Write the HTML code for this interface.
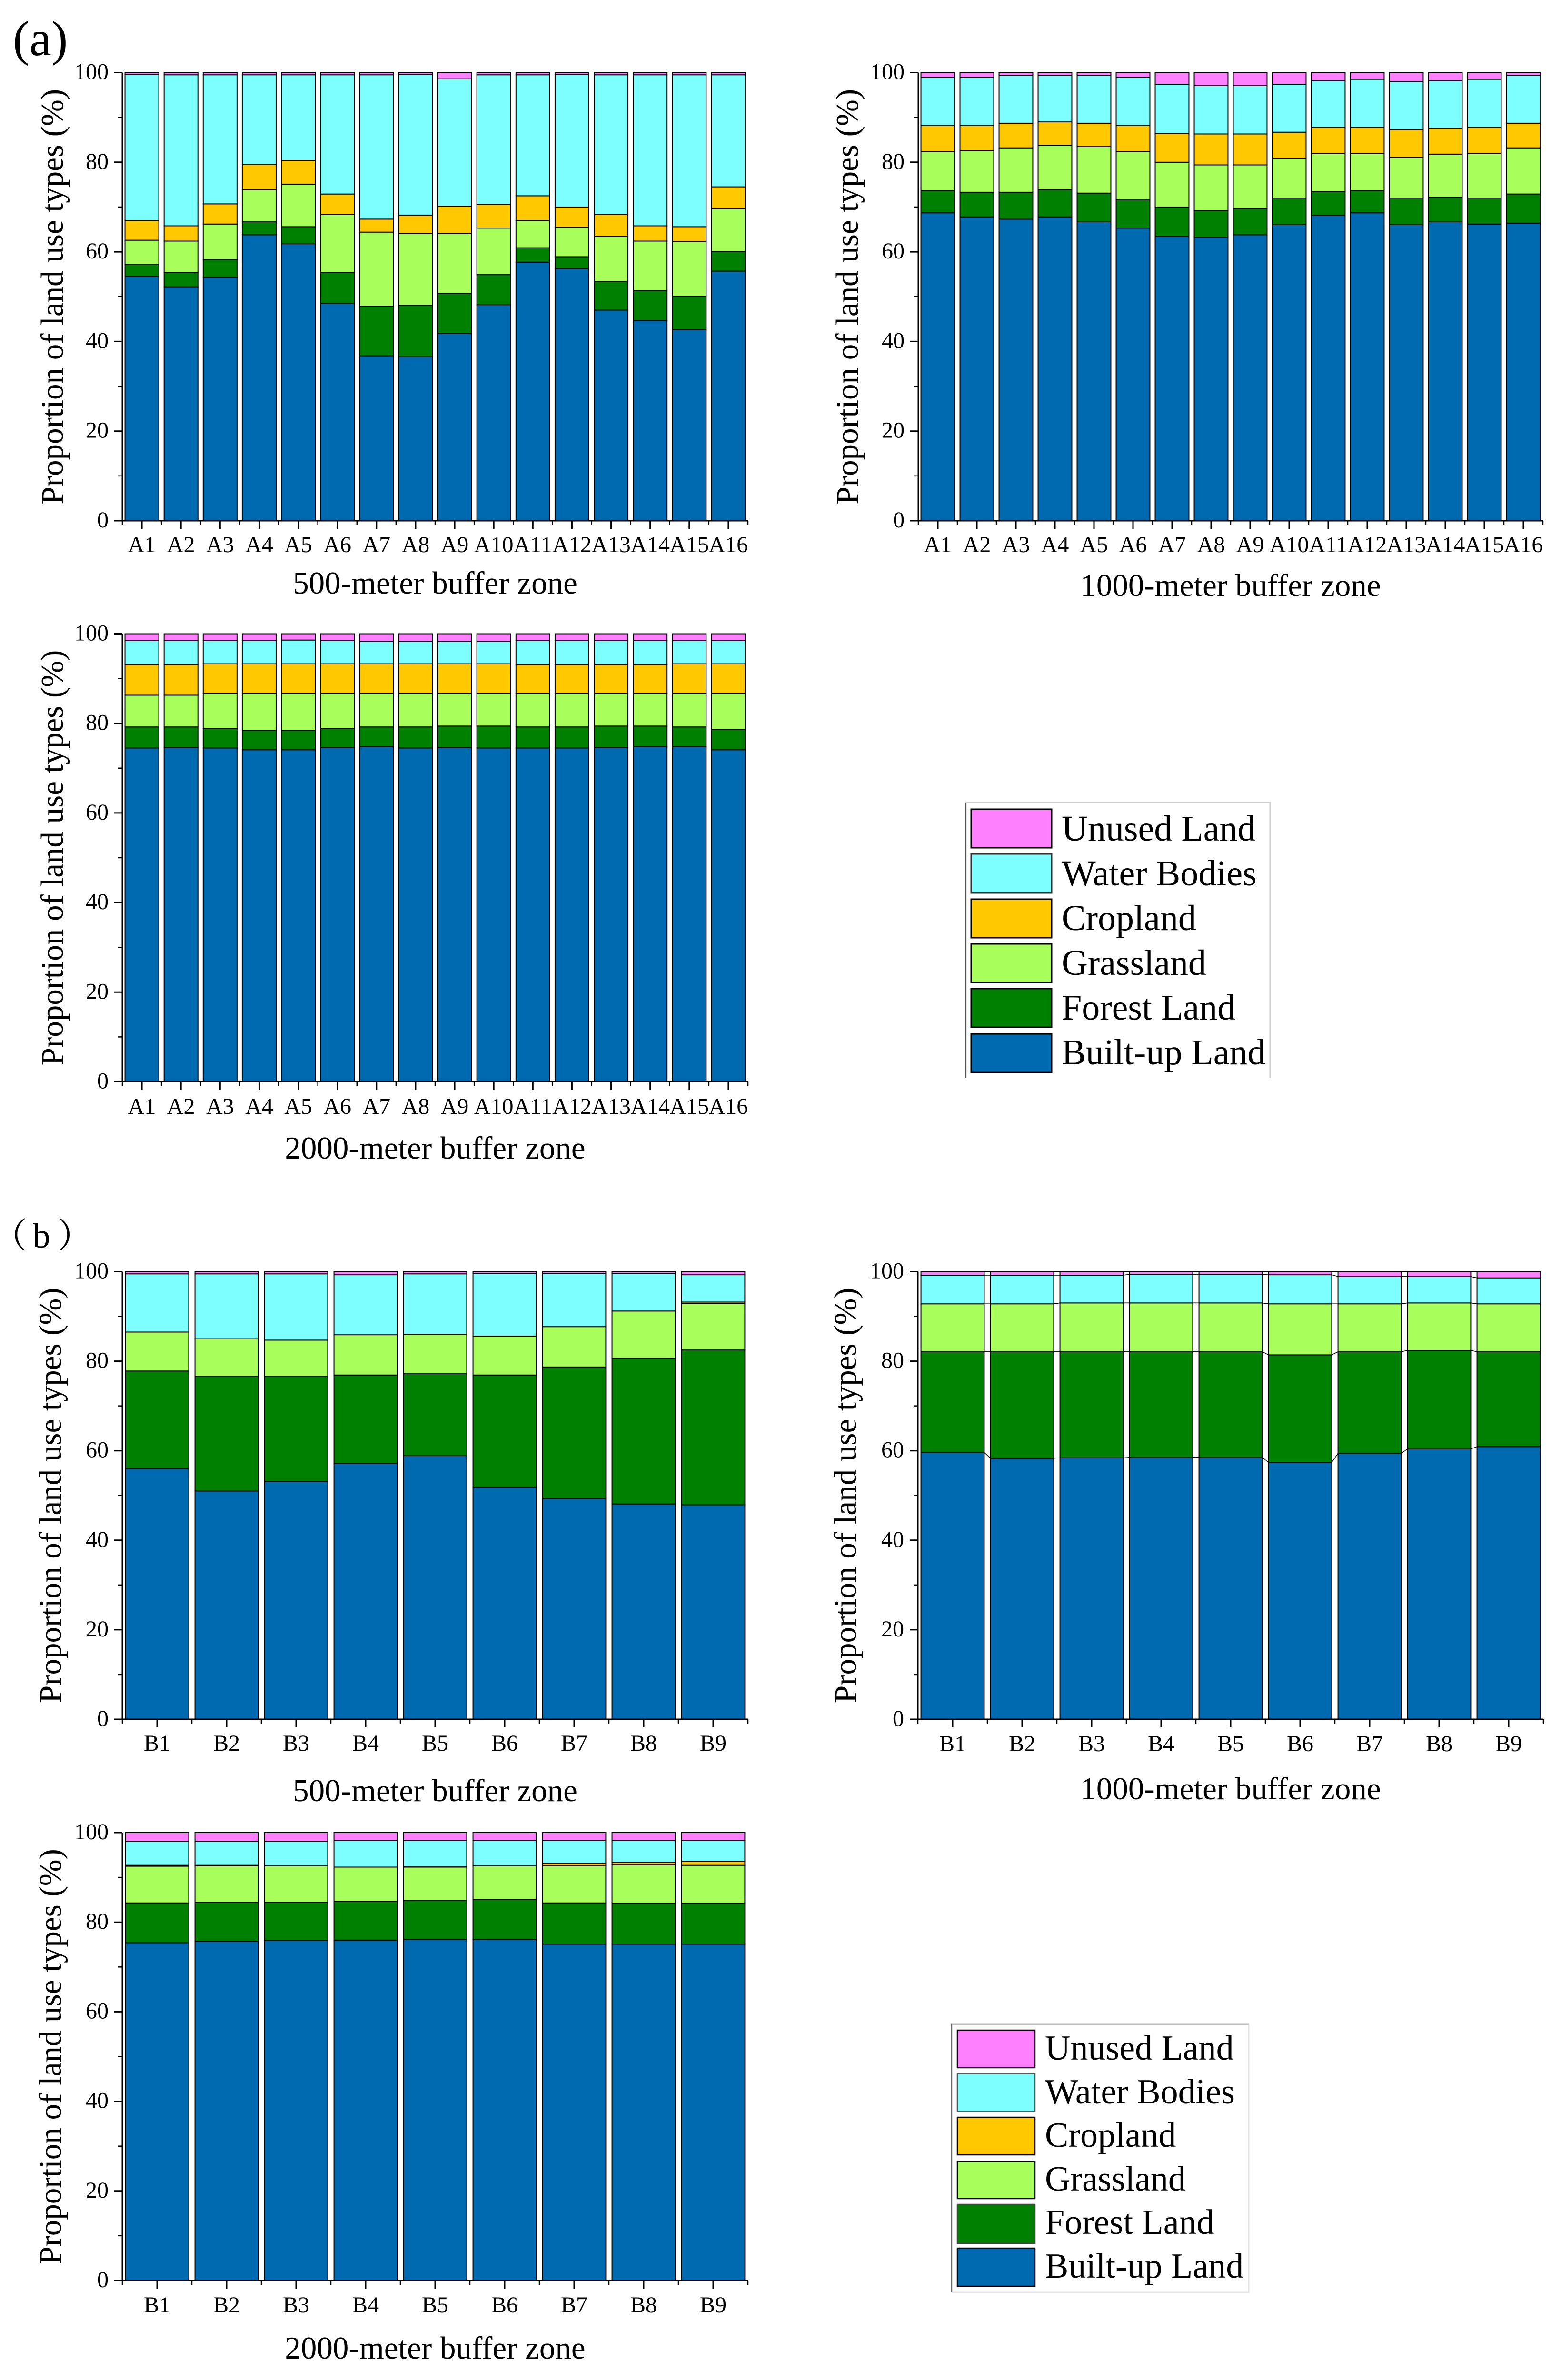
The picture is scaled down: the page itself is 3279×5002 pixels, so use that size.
<!DOCTYPE html>
<html lang="en">
<head>
<meta charset="utf-8">
<title>Proportion of land use types by buffer zone</title>
<style>
html,body{margin:0;padding:0;background:#fff;width:3279px;height:5002px;overflow:hidden;}
#figure{display:block;position:absolute;left:0;top:0;width:3279px;height:5002px;overflow:hidden;}
text{font-family:"Liberation Serif","Noto Serif CJK SC",serif;fill:#000;}
</style>
</head>
<body>
<svg id="figure" xmlns="http://www.w3.org/2000/svg" width="3279" height="5002" viewBox="0 0 3279 5002">
  <text x="27" y="116" font-size="104">(a)</text>
  <text x="-16" y="2621" font-size="73">（<tspan dx="12">b</tspan><tspan dx="15">）</tspan></text>

  <g>
    <path d="M2029 2265V1686H2668V2265" fill="none" stroke="#cfcfcf" stroke-width="3"/>
    <path d="M2029 2265V1686" fill="none" stroke="#555" stroke-width="2"/>
    <rect x="2040" y="1700" width="169" height="81" fill="#FF80FF" stroke="#000" stroke-width="3"/>
    <rect x="2040" y="1794" width="169" height="82" fill="#7DFFFF" stroke="#333" stroke-width="3"/>
    <rect x="2040" y="1889" width="169" height="81" fill="#FFC800" stroke="#000" stroke-width="3"/>
    <rect x="2040" y="1983" width="169" height="81" fill="#A8FF5C" stroke="#000" stroke-width="3"/>
    <rect x="2040" y="2077" width="169" height="81" fill="#008000" stroke="#000" stroke-width="3"/>
    <rect x="2040" y="2172" width="169" height="81" fill="#006AB0" stroke="#000" stroke-width="3"/>
    <text x="2230" y="1766" font-size="76">Unused Land</text>
    <text x="2230" y="1860" font-size="76">Water Bodies</text>
    <text x="2230" y="1954" font-size="76">Cropland</text>
    <text x="2230" y="2048" font-size="76">Grassland</text>
    <text x="2230" y="2142" font-size="76">Forest Land</text>
    <text x="2230" y="2236" font-size="76">Built-up Land</text>
  </g>

  <g>
    <path d="M1999 4816H2623V4253H1999" fill="none" stroke="#e4e4e4" stroke-width="3"/>
    <path d="M1999 4816V4253H2623" fill="none" stroke="#bbb" stroke-width="3"/>
    <path d="M1999 4816V4253" fill="none" stroke="#666" stroke-width="2"/>
    <rect x="2011" y="4265" width="163" height="79" fill="#FF80FF" stroke="#000" stroke-width="2.5"/>
    <rect x="2011" y="4356" width="163" height="80" fill="#7DFFFF" stroke="#555" stroke-width="2.5"/>
    <rect x="2011" y="4448" width="163" height="79" fill="#FFC800" stroke="#000" stroke-width="2.5"/>
    <rect x="2011" y="4541" width="163" height="78" fill="#A8FF5C" stroke="#000" stroke-width="2.5"/>
    <rect x="2011" y="4631" width="163" height="82" fill="#008000" stroke="#444" stroke-width="2.5"/>
    <rect x="2011" y="4723" width="163" height="80" fill="#006AB0" stroke="#000" stroke-width="2.5"/>
    <text x="2195" y="4327" font-size="74">Unused Land</text>
    <text x="2195" y="4419" font-size="74">Water Bodies</text>
    <text x="2195" y="4510" font-size="74">Cropland</text>
    <text x="2195" y="4602" font-size="74">Grassland</text>
    <text x="2195" y="4693" font-size="74">Forest Land</text>
    <text x="2195" y="4785" font-size="74">Built-up Land</text>
  </g>
  <g id="charts"></g>
</svg>
<script>
// Category and tick labels
var categoriesA = ['A1','A2','A3','A4','A5','A6','A7','A8','A9','A10','A11','A12','A13','A14','A15','A16'];
var categoriesB = ['B1','B2','B3','B4','B5','B6','B7','B8','B9'];
var yTickValues = [0,20,40,60,80,100];
var yMinorTickValues = [10,30,50,70,90];

// Panel (a), 500 m buffer (percent)
var a500Built = [54.5,52.2,54.3,63.8,61.8,48.5,36.8,36.6,41.8,48.2,57.7,56.3,47.0,44.7,42.6,55.7];
var a500Forest = [2.7,3.2,4.0,2.9,3.8,6.9,11.1,11.5,8.9,6.7,3.2,2.6,6.4,6.7,7.5,4.4];
var a500Grass = [5.4,7.0,7.9,7.2,9.5,13.0,16.5,16.0,13.4,10.4,6.1,6.6,10.1,11.0,12.2,9.5];
var a500Crop = [4.4,3.4,4.5,5.6,5.3,4.5,2.9,4.1,6.1,5.3,5.5,4.5,4.9,3.4,3.3,4.9];
var a500Water = [32.6,33.7,28.8,20.0,19.1,26.6,32.2,31.4,28.4,28.9,27.0,29.6,31.1,33.7,33.9,25.0];
var a500Unused = [0.4,0.5,0.5,0.5,0.5,0.5,0.5,0.4,1.4,0.5,0.5,0.4,0.5,0.5,0.5,0.5];

// Panel (a), 1000 m buffer
var a1000Built = [68.7,67.8,67.3,67.8,66.7,65.3,63.5,63.3,63.8,66.1,68.2,68.7,66.1,66.7,66.2,66.4];
var a1000Forest = [5.0,5.5,6.0,6.1,6.4,6.3,6.5,5.9,5.8,5.9,5.2,5.0,5.9,5.5,5.8,6.5];
var a1000Grass = [8.7,9.3,9.9,9.9,10.4,10.8,10.0,10.2,9.8,8.9,8.6,8.3,9.1,9.6,10.0,10.3];
var a1000Crop = [5.8,5.6,5.5,5.2,5.2,5.8,6.4,6.9,6.9,5.8,5.8,5.8,6.2,5.8,5.8,5.5];
var a1000Water = [10.7,10.7,10.7,10.4,10.7,10.7,11.0,10.8,10.8,10.7,10.4,10.7,10.7,10.6,10.7,10.7];
var a1000Unused = [1.1,1.1,0.6,0.6,0.6,1.1,2.6,2.9,2.9,2.6,1.8,1.5,2.0,1.8,1.5,0.6];

// Panel (a), 2000 m buffer
var a2000Built = [74.5,74.6,74.5,74.1,74.1,74.6,74.8,74.5,74.6,74.5,74.5,74.5,74.6,74.8,74.8,74.1];
var a2000Forest = [4.7,4.6,4.3,4.3,4.3,4.3,4.4,4.7,4.8,4.9,4.7,4.7,4.8,4.6,4.4,4.5];
var a2000Grass = [7.1,7.1,7.9,8.3,8.3,7.8,7.5,7.5,7.3,7.3,7.5,7.5,7.3,7.3,7.5,8.1];
var a2000Crop = [6.8,6.8,6.6,6.6,6.6,6.6,6.6,6.6,6.6,6.6,6.4,6.4,6.4,6.4,6.6,6.6];
var a2000Water = [5.4,5.4,5.2,5.2,5.3,5.2,5.0,5.0,5.0,5.0,5.4,5.4,5.4,5.4,5.2,5.2];
var a2000Unused = [1.5,1.5,1.5,1.5,1.4,1.5,1.7,1.7,1.7,1.7,1.5,1.5,1.5,1.5,1.5,1.5];

// Panel (b), 500 m buffer
var b500Built = [56.0,51.0,53.1,57.1,58.9,51.9,49.3,48.1,47.9];
var b500Forest = [21.8,25.6,23.5,19.8,18.3,25.0,29.4,32.6,34.6];
var b500Grass = [8.7,8.4,8.1,9.0,8.8,8.7,9.0,10.5,10.4];
var b500Crop = [0,0,0,0,0,0,0,0,0.3];
var b500Water = [13.0,14.5,14.8,13.4,13.5,14.0,11.9,8.4,6.1];
var b500Unused = [0.5,0.5,0.5,0.7,0.5,0.4,0.4,0.4,0.7];

// Panel (b), 1000 m buffer
var b1000Built = [59.6,58.3,58.4,58.5,58.5,57.4,59.4,60.4,60.9];
var b1000Forest = [22.5,23.8,23.7,23.6,23.6,24.0,22.7,22.0,21.2];
var b1000Grass = [10.7,10.7,10.9,10.9,10.9,11.4,10.7,10.6,10.7];
var b1000Crop = [0,0,0,0,0,0,0,0,0];
var b1000Water = [6.4,6.4,6.2,6.4,6.4,6.5,6.1,5.9,5.8];
var b1000Unused = [0.8,0.8,0.8,0.6,0.6,0.7,1.1,1.1,1.4];

// Panel (b), 2000 m buffer
var b2000Built = [75.4,75.7,75.9,76.0,76.2,76.2,75.1,75.1,75.1];
var b2000Forest = [8.9,8.7,8.5,8.6,8.6,8.9,9.2,9.1,9.1];
var b2000Grass = [8.2,8.2,8.2,7.7,7.5,7.5,8.3,8.6,8.5];
var b2000Crop = [0.2,0.1,0,0,0.1,0,0.5,0.6,0.9];
var b2000Water = [5.3,5.3,5.4,5.9,5.8,5.7,5.1,4.9,4.7];
var b2000Unused = [2.0,2.0,2.0,1.8,1.8,1.7,1.8,1.7,1.7];

var seriesNames = ['built-up','forest','grassland','cropland','water','unused'];
var seriesColors = ['#006AB0','#008000','#A8FF5C','#FFC800','#7DFFFF','#FF80FF'];

var NS = 'http://www.w3.org/2000/svg';
var root = document.getElementById('charts');

function make(parent, tag, attrs, text) {
  var el = document.createElementNS(NS, tag);
  for (var k in attrs) { el.setAttribute(k, attrs[k]); }
  if (text !== undefined) { el.textContent = text; }
  parent.appendChild(el);
  return el;
}

function drawChart(c) {
  var g = make(root, 'g', {});
  
  

  var xPitch = (c.x1 - c.x0) / c.categories.length;
  function xCenter(i) { return c.x0 + xPitch * (i + 0.5); }
  function yScale(v) { return c.bottom - (c.bottom - c.top) * v / 100; }
  var barW = xPitch * c.barFrac;

  var cumulative = c.categories.map(function () { return 0; });
  c.series.forEach(function (values, s) {
    values.forEach(function (v, i) {
      var lower = cumulative[i];
      var upper = lower + v;
      cumulative[i] = upper;
      if (v <= 0) { return; }
      var rect = make(g, 'rect', {
        x: xCenter(i) - barW / 2 + c.barShift,
        y: yScale(upper),
        width: barW,
        height: yScale(lower) - yScale(upper),
        fill: seriesColors[s],
        stroke: '#000',
        'stroke-width': 2
      });
      
      
    });
    if (c.connect) {
      var start = cumulative.slice();
      values.forEach(function (v, i) {
        if (i === values.length - 1) { return; }
        var link = make(g, 'line', {
          x1: xCenter(i) + barW / 2 + c.barShift,
          y1: yScale(start[i]),
          x2: xCenter(i + 1) - barW / 2 + c.barShift,
          y2: yScale(start[i + 1]),
          stroke: '#000',
          'stroke-width': 1.5
        });
        
        
      });
    }
  });

  var yAxis = make(g, 'line', { x1: c.x0, y1: c.top, x2: c.x0, y2: c.bottom, stroke: '#000', 'stroke-width': 3 });
  
  
  var xAxis = make(g, 'line', { x1: c.x0, y1: c.bottom, x2: c.x1, y2: c.bottom, stroke: '#000', 'stroke-width': 3 });
  
  

  yTickValues.forEach(function (v) {
    var t = make(g, 'line', { x1: c.x0 - 17, y1: yScale(v), x2: c.x0, y2: yScale(v), stroke: '#000', 'stroke-width': 3 });
    
    
    var l = make(g, 'text', { x: c.x0 - 29, y: yScale(v) + 14, 'font-size': 48, 'text-anchor': 'end' }, String(v));
    
    
  });
  yMinorTickValues.forEach(function (v) {
    var t = make(g, 'line', { x1: c.x0 - 9, y1: yScale(v), x2: c.x0, y2: yScale(v), stroke: '#000', 'stroke-width': 2.5 });
    
    
  });
  c.categories.forEach(function (name, i) {
    var t = make(g, 'line', { x1: xCenter(i), y1: c.bottom, x2: xCenter(i), y2: c.bottom + 17, stroke: '#000', 'stroke-width': 3 });
    
    
    var l = make(g, 'text', { x: xCenter(i), y: c.tickBaseline, 'font-size': 48, 'text-anchor': 'middle' }, name);
    
    
  });
  for (var m = 0; m <= c.categories.length; m++) {
    var mx = c.x0 + xPitch * m;
    var mt = make(g, 'line', { x1: mx, y1: c.bottom, x2: mx, y2: c.bottom + 9, stroke: '#000', 'stroke-width': 2.5 });
    
    
  }

  var cy = (c.top + c.bottom) / 2;
  var yt = make(g, 'text', {
    x: c.titleX, y: cy, 'font-size': 67, 'text-anchor': 'middle',
    transform: 'rotate(-90 ' + c.titleX + ' ' + cy + ')'
  }, 'Proportion of land use types (%)');
  
  
  var xt = make(g, 'text', { x: (c.x0 + c.x1) / 2, y: c.xTitleBaseline, 'font-size': 67, 'text-anchor': 'middle' }, c.xTitle);
  
  
}

drawChart({ id: 'a-500', categories: categoriesA, series: [a500Built,a500Forest,a500Grass,a500Crop,a500Water,a500Unused],
  x0: 257, x1: 1571, top: 152.5, bottom: 1094, barFrac: 0.865, barShift: 0, connect: false,
  titleX: 132, tickBaseline: 1160, xTitle: '500-meter buffer zone', xTitleBaseline: 1247 });
drawChart({ id: 'a-1000', categories: categoriesA, series: [a1000Built,a1000Forest,a1000Grass,a1000Crop,a1000Water,a1000Unused],
  x0: 1929, x1: 3241, top: 152.5, bottom: 1094, barFrac: 0.865, barShift: 0, connect: false,
  titleX: 1802, tickBaseline: 1160, xTitle: '1000-meter buffer zone', xTitleBaseline: 1252 });
drawChart({ id: 'a-2000', categories: categoriesA, series: [a2000Built,a2000Forest,a2000Grass,a2000Crop,a2000Water,a2000Unused],
  x0: 257, x1: 1571, top: 1331.5, bottom: 2272.5, barFrac: 0.865, barShift: 0, connect: false,
  titleX: 132, tickBaseline: 2340, xTitle: '2000-meter buffer zone', xTitleBaseline: 2434 });
drawChart({ id: 'b-500', categories: categoriesB, series: [b500Built,b500Forest,b500Grass,b500Crop,b500Water,b500Unused],
  x0: 257, x1: 1571, top: 2671.5, bottom: 3612, barFrac: 0.91, barShift: 0, connect: false,
  titleX: 128, tickBaseline: 3678, xTitle: '500-meter buffer zone', xTitleBaseline: 3784 });
drawChart({ id: 'b-1000', categories: categoriesB, series: [b1000Built,b1000Forest,b1000Grass,b1000Crop,b1000Water,b1000Unused],
  x0: 1928, x1: 3242, top: 2671.5, bottom: 3612, barFrac: 0.91, barShift: 0, connect: true,
  titleX: 1798, tickBaseline: 3679, xTitle: '1000-meter buffer zone', xTitleBaseline: 3780 });
drawChart({ id: 'b-2000', categories: categoriesB, series: [b2000Built,b2000Forest,b2000Grass,b2000Crop,b2000Water,b2000Unused],
  x0: 257, x1: 1571, top: 3850, bottom: 4791, barFrac: 0.91, barShift: 0, connect: false,
  titleX: 128, tickBaseline: 4858, xTitle: '2000-meter buffer zone', xTitleBaseline: 4955 });
</script>
</body>
</html>
